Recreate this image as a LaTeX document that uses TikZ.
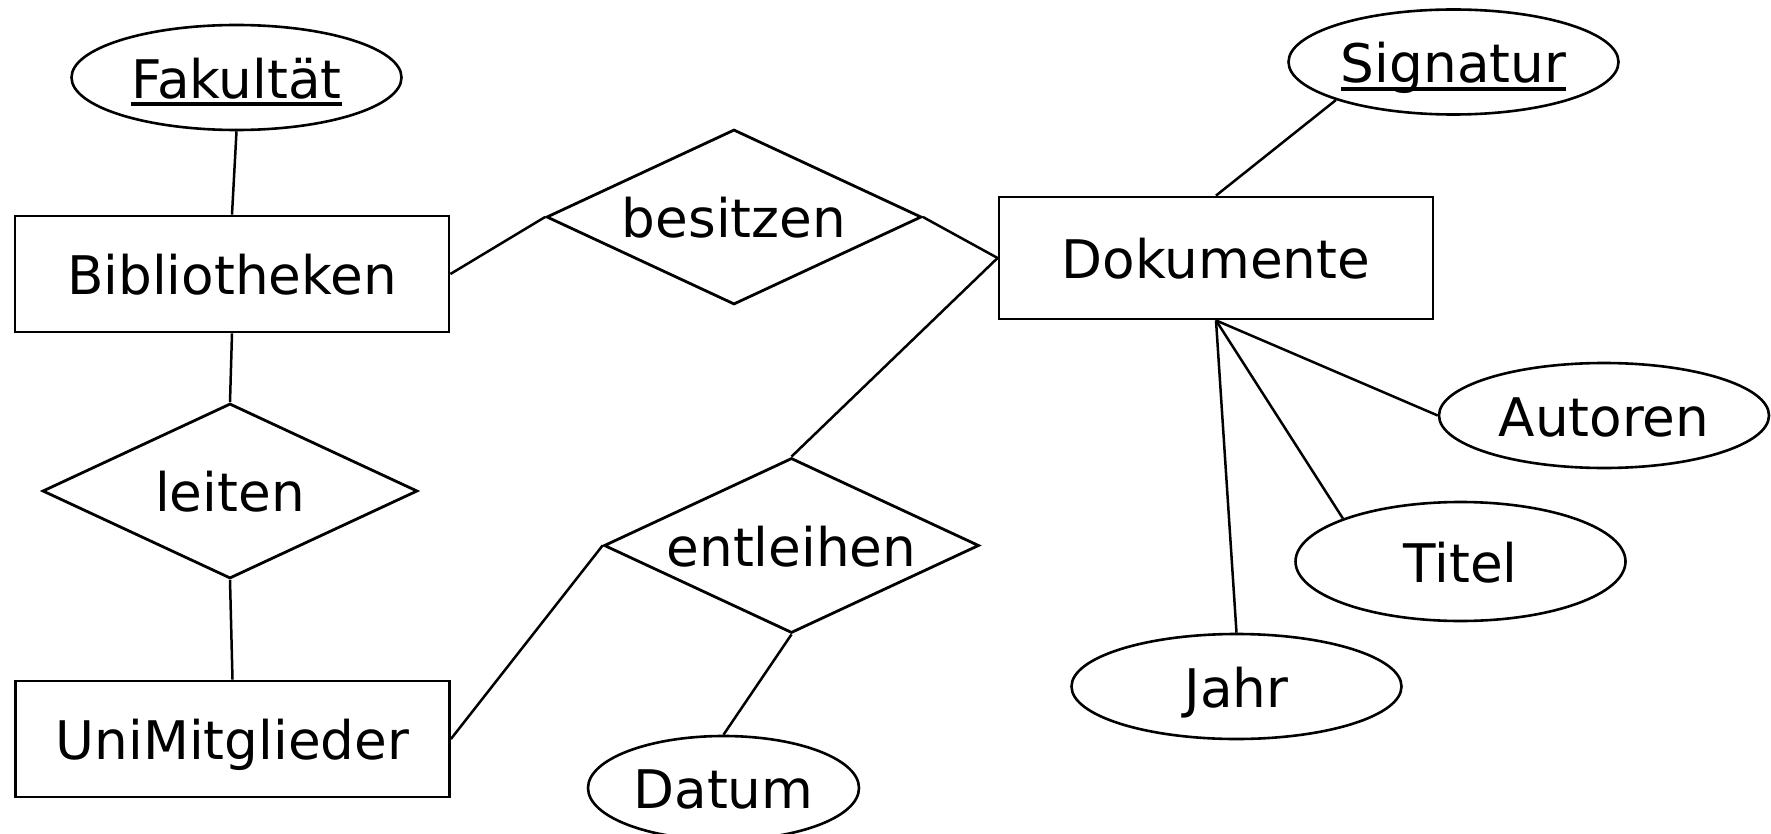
\documentclass[tikz,border=0pt]{standalone}
\usepackage{fontspec}
\setmainfont{DejaVu Sans}
\usetikzlibrary{shapes.geometric}
\newcommand{\pk}[1]{\setbox0=\hbox{#1}\rlap{\rule[-0.154em]{\wd0}{0.077em}}\box0}
\begin{document}
\begin{tikzpicture}[x=0.5pt,y=-0.5pt,font=\fontsize{26.6pt}{31pt}\selectfont,
	entity/.style={draw,line width=1.4pt,rectangle,minimum width=217pt,minimum height=58pt,inner sep=0pt,text height=20.8pt,text depth=0pt},
	relation/.style={draw,line width=1.4pt,diamond,aspect=2.14,minimum width=187.5pt,minimum height=87.5pt,inner sep=0pt,text height=20.8pt,text depth=0pt},
	attribute/.style={draw,line width=1.3pt,ellipse,minimum width=165pt,minimum height=52.5pt,inner sep=0pt,text height=20.8pt,text depth=0pt},
	link/.style={line width=1.25pt}]
	\useasboundingbox (0,0) rectangle (1771,834);
	\node[entity] (bib) at (232,274) {Bibliotheken};
	\node[entity,minimum height=61pt] (dok) at (1216,258) {Dokumente};
	\node[entity] (uni) at (232.5,739) {UniMitglieder};
	\node[relation] (bes) at (734,217) {besitzen};
	\node[relation] (lei) at (230,491) {leiten};
	\node[relation] (ent) at (791.5,545.5) {entleihen};
	\node[attribute] (fak) at (236.5,77.5) {\pk{Fakultät}};
	\node[attribute] (sig) at (1453.5,62) {\pk{Signatur}};
	\node[attribute] (aut) at (1604,415.5) {Autoren};
	\node[attribute,minimum height=59.5pt] (tit) at (1460.5,561.5) {Titel};
	\node[attribute] (jahr) at (1236.5,686.5) {Jahr};
	\node[attribute,minimum width=135.5pt,minimum height=52pt] (dat) at (723.5,788) {Datum};
	\draw[link] (fak.south) -- (bib.north);
	\draw[link] (bib.east) -- (bes.west);
	\draw[link] (bes.east) -- (dok.west);
	\draw[link] (sig.south west) -- (dok.north);
	\draw[link] (dok.south) -- (aut.west);
	\draw[link] (dok.south) -- (tit.north west);
	\draw[link] (dok.south) -- (jahr.north);
	\draw[link] (bib.south) -- (lei.north);
	\draw[link] (lei.south) -- (uni.north);
	\draw[link] (uni.east) -- (ent.west);
	\draw[link] (ent.north) -- (dok.west);
	\draw[link] (ent.south) -- (dat.north);
\end{tikzpicture}
\end{document}
